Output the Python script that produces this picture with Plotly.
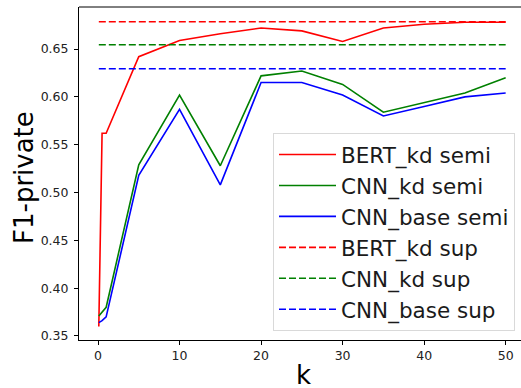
import plotly.graph_objects as go

k = [0.1, 0.5, 1, 5, 10, 15, 20, 25, 30, 35, 40, 45, 50]
bert_kd_semi = [0.360, 0.562, 0.562, 0.642, 0.659, 0.666, 0.672, 0.669, 0.658, 0.672, 0.676, 0.678, 0.678]
cnn_kd_semi = [0.371, 0.375, 0.380, 0.529, 0.602, 0.528, 0.622, 0.627, 0.613, 0.584, 0.594, 0.604, 0.620]
cnn_base_semi = [0.364, 0.366, 0.370, 0.518, 0.587, 0.508, 0.615, 0.615, 0.602, 0.580, 0.590, 0.600, 0.604]

sup_k = [0.1, 50]
bert_kd_sup = 0.6785
cnn_kd_sup = 0.6545
cnn_base_sup = 0.6295

x_ticks = [0, 10, 20, 30, 40, 50]
y_ticks = [0.35, 0.40, 0.45, 0.50, 0.55, 0.60, 0.65]

FONT = "DejaVu Sans"
W, H = 521, 388
L, R, T, B = 79, 0, 7, 48

fig = go.Figure()
semi = [("BERT_kd semi", bert_kd_semi, "#ff0000"),
        ("CNN_kd semi", cnn_kd_semi, "#008000"),
        ("CNN_base semi", cnn_base_semi, "#0000ff")]
sup = [("BERT_kd sup", bert_kd_sup, "#ff0000"),
       ("CNN_kd sup", cnn_kd_sup, "#008000"),
       ("CNN_base sup", cnn_base_sup, "#0000ff")]
for name, ys, c in semi:
    fig.add_trace(go.Scatter(x=k, y=ys, mode="lines", name=name, legendgroup=name,
                             line=dict(color=c, width=1.6)))
for name, v, c in sup:
    fig.add_trace(go.Scatter(x=sup_k, y=[v, v], mode="lines", name=name, legendgroup=name,
                             line=dict(color=c, width=1.6, dash="7px,3px")))

fig.update_layout(
    width=W, height=H,
    margin=dict(l=L, r=R, t=T, b=B, pad=0),
    plot_bgcolor="white", paper_bgcolor="white",
    font=dict(family=FONT, color="black"),
    showlegend=True,
    legend=dict(x=(273 - L) / (W - L - R), y=(340 - 133) / (H - T - B),
                xanchor="left", yanchor="top",
                font=dict(size=21.5, family=FONT, color="#1a1a1a"),
                bgcolor="rgba(255,255,255,0.8)", bordercolor="#d9d9d9", borderwidth=1,
                tracegroupgap=3.5, traceorder="normal", itemwidth=57),
)
fig.update_xaxes(range=[-2.33, 51.88], tickvals=x_ticks, ticktext=[str(t) for t in x_ticks],
                 showgrid=False, zeroline=False, showline=True, linecolor="black", linewidth=1,
                 mirror=False, ticks="outside", ticklen=4, tickcolor="black",
                 tickfont=dict(size=12.5, family=FONT, color="#222"))
fig.update_yaxes(range=[0.3458, 0.6940], tickvals=y_ticks, ticktext=[f"{t:.2f}" for t in y_ticks],
                 showgrid=False, zeroline=False, showline=True, linecolor="black", linewidth=1,
                 ticks="outside", ticklen=4, tickcolor="black",
                 tickfont=dict(size=12.5, family=FONT, color="#222"), ticklabelstandoff=3)
# top spine
fig.add_shape(type="line", xref="paper", yref="paper", x0=0, x1=1, y0=1, y1=1,
              line=dict(color="black", width=1))

pw = W - L - R
ph = H - T - B
fig.add_annotation(text="k", xref="paper", yref="paper", x=(303 - L) / pw, y=(340 - 375) / ph,
                   xanchor="center", yanchor="middle", showarrow=False,
                   font=dict(size=26, family=FONT, color="black"))
fig.add_annotation(text="F1-private", xref="paper", yref="paper", x=(24 - L) / pw, y=(340 - 178) / ph,
                   xanchor="center", yanchor="middle", showarrow=False, textangle=-90,
                   font=dict(size=26, family=FONT, color="black"))

fig.write_html("out.html", config={"displayModeBar": False},
               post_script="document.body.style.margin='0';document.body.style.overflow='hidden';")
